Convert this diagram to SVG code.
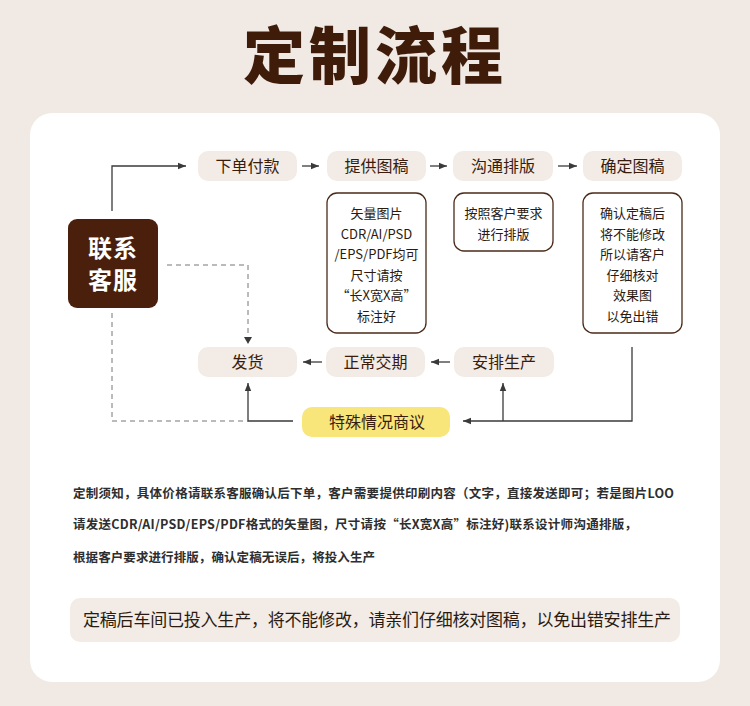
<svg xmlns="http://www.w3.org/2000/svg" width="750" height="706" viewBox="0 0 750 706">
<defs>
<style>
.pill{fill:#f2ebe6}
.lbl{font-family:"Noto Sans CJK SC","Noto Sans",sans-serif;font-size:16px;fill:#3a1c0c;text-anchor:middle}
.det{fill:#ffffff;stroke:#4a2a18;stroke-width:1.3}
.dt{font-family:"Noto Sans CJK SC","Noto Sans",sans-serif;font-size:13px;fill:#2b1a10;text-anchor:middle}
.ln{fill:none;stroke:#3a3a3a;stroke-width:1.3}
.dash{fill:none;stroke:#777;stroke-width:1;stroke-dasharray:5 4}
.note{font-family:"Noto Sans CJK SC","Noto Sans",sans-serif;font-size:12.5px;font-weight:700;fill:#2e2e2e}
</style>
<marker id="ah" viewBox="0 0 10 10" refX="10" refY="5" markerWidth="8" markerHeight="8" markerUnits="userSpaceOnUse" orient="auto">
<path d="M0,1 L10,5 L0,9 Z" fill="#3a3a3a"/>
</marker>
</defs>
<rect width="750" height="706" fill="#f1eae4"/>
<text x="375" y="79" font-family="Noto Sans CJK SC, sans-serif" font-weight="900" font-size="62" fill="#3f1c0a" text-anchor="middle" letter-spacing="4">定制流程</text>
<rect x="30" y="113" width="690" height="569" rx="22" fill="#ffffff"/>

<g id="connectors">
<path class="ln" d="M112,211 V166 H186" marker-end="url(#ah)"/>
<path class="ln" d="M302,166 H319" marker-end="url(#ah)"/>
<path class="ln" d="M430,166 H447" marker-end="url(#ah)"/>
<path class="ln" d="M558,166 H577" marker-end="url(#ah)"/>
<path class="ln" d="M322,362 H303" marker-end="url(#ah)"/>
<path class="ln" d="M450,362 H431" marker-end="url(#ah)"/>
<path class="ln" d="M632,347 V421 H463" marker-end="url(#ah)"/>
<path class="ln" d="M503,421 V383" marker-end="url(#ah)"/>
<path class="ln" d="M293,421 H248 V383" marker-end="url(#ah)"/>
<path class="dash" d="M167,265 H248 V340"/>
<path d="M244,337 L248,344 L252,337 Z" fill="#3a3a3a"/>
<path class="dash" d="M112,313 V421 H248"/>
</g>

<g id="contact">
<rect x="68" y="219" width="90" height="89" rx="9" fill="#4a200c"/>
<text x="113" y="257" font-family="Noto Sans CJK SC, sans-serif" font-weight="700" font-size="24" fill="#ffffff" text-anchor="middle" letter-spacing="1">联系</text>
<text x="113" y="289" font-family="Noto Sans CJK SC, sans-serif" font-weight="700" font-size="24" fill="#ffffff" text-anchor="middle" letter-spacing="1">客服</text>
</g>

<g id="order"><rect class="pill" x="198" y="151" width="99" height="30" rx="10"/><text class="lbl" x="247.5" y="172">下单付款</text></g>
<g id="provide"><rect class="pill" x="327" y="151" width="99" height="30" rx="10"/><text class="lbl" x="376.5" y="172">提供图稿</text></g>
<g id="layout"><rect class="pill" x="453" y="151" width="100" height="30" rx="10"/><text class="lbl" x="503" y="172">沟通排版</text></g>
<g id="confirm"><rect class="pill" x="583" y="151" width="99" height="30" rx="10"/><text class="lbl" x="632.5" y="172">确定图稿</text></g>

<g id="provide-detail">
<rect class="det" x="327" y="193" width="99" height="140" rx="10"/>
<text class="dt" x="376.5" y="218">矢量图片</text>
<text class="dt" x="376.5" y="238.5">CDR/AI/PSD</text>
<text class="dt" x="376.5" y="259">/EPS/PDF均可</text>
<text class="dt" x="376.5" y="279.5">尺寸请按</text>
<text class="dt" x="376.5" y="300">“长X宽X高”</text>
<text class="dt" x="376.5" y="320.5">标注好</text>
</g>
<g id="layout-detail">
<rect class="det" x="454" y="193" width="99" height="58" rx="10"/>
<text class="dt" x="503.5" y="218">按照客户要求</text>
<text class="dt" x="503.5" y="238.5">进行排版</text>
</g>
<g id="confirm-detail">
<rect class="det" x="583" y="193" width="99" height="140" rx="10"/>
<text class="dt" x="632.5" y="218">确认定稿后</text>
<text class="dt" x="632.5" y="238.5">将不能修改</text>
<text class="dt" x="632.5" y="259">所以请客户</text>
<text class="dt" x="632.5" y="279.5">仔细核对</text>
<text class="dt" x="632.5" y="300">效果图</text>
<text class="dt" x="632.5" y="320.5">以免出错</text>
</g>

<g id="ship"><rect class="pill" x="198" y="347" width="99" height="30" rx="10"/><text class="lbl" x="247.5" y="368">发货</text></g>
<g id="normal"><rect class="pill" x="326" y="347" width="99" height="30" rx="10"/><text class="lbl" x="375.5" y="368">正常交期</text></g>
<g id="produce"><rect class="pill" x="454" y="347" width="100" height="30" rx="10"/><text class="lbl" x="504" y="368">安排生产</text></g>
<g id="special"><rect x="302" y="407" width="148" height="30" rx="10" fill="#f8e67a"/><text class="lbl" x="377" y="428">特殊情况商议</text></g>

<g id="notes">
<text class="note" x="73" y="498" textLength="601" lengthAdjust="spacing">定制须知，具体价格请联系客服确认后下单，客户需要提供印刷内容（文字，直接发送即可；若是图片LOO</text>
<text class="note" x="73" y="529" textLength="564" lengthAdjust="spacing">请发送CDR/AI/PSD/EPS/PDF格式的矢量图，尺寸请按“长X宽X高”标注好)联系设计师沟通排版，</text>
<text class="note" x="73" y="562" textLength="302" lengthAdjust="spacing">根据客户要求进行排版，确认定稿无误后，将投入生产</text>
</g>

<g id="banner">
<rect x="70" y="598" width="610" height="44" rx="10" fill="#f2ebe6"/>
<text x="377" y="626" font-family="Noto Sans CJK SC, sans-serif" font-size="17" fill="#2b1a10" text-anchor="middle" textLength="588" lengthAdjust="spacing">定稿后车间已投入生产，将不能修改，请亲们仔细核对图稿，以免出错安排生产</text>
</g>
</svg>
